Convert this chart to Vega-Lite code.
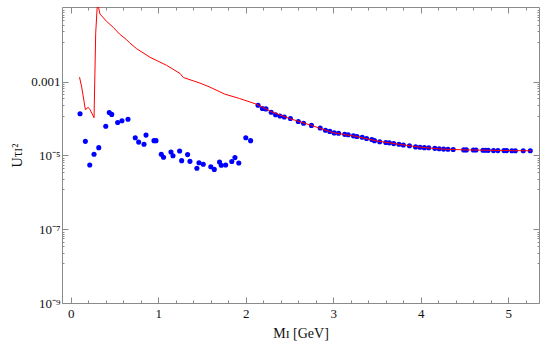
{
  "$schema": "https://vega.github.io/schema/vega-lite/v6.json",
  "width": 477,
  "height": 296,
  "autosize": {"type": "none"},
  "padding": {"left": 62, "top": 7, "right": 6, "bottom": 48},
  "background": "white",
  "config": {
    "view": {"stroke": null},
    "axis": {
      "grid": false,
      "domainColor": "#8a8a8a",
      "tickColor": "#8a8a8a",
      "labelFont": "Liberation Serif",
      "labelFontSize": 13,
      "labelColor": "#111",
      "titleFont": "Liberation Serif",
      "titleFontSize": 14,
      "titleFontWeight": "normal",
      "titleColor": "#111"
    }
  },
  "datasets": {
    "curve": [
      {"m": 0.10, "u": 0.00132},
      {"m": 0.125, "u": 0.000708},
      {"m": 0.167, "u": 0.000174},
      {"m": 0.20, "u": 0.000200},
      {"m": 0.22, "u": 0.000174},
      {"m": 0.266, "u": 0.000105},
      {"m": 0.285, "u": 0.0204},
      {"m": 0.305, "u": 0.141},
      {"m": 0.334, "u": 0.0676},
      {"m": 0.41, "u": 0.0427},
      {"m": 0.486, "u": 0.0295},
      {"m": 0.556, "u": 0.0195},
      {"m": 0.64, "u": 0.0135},
      {"m": 0.677, "u": 0.0110},
      {"m": 0.753, "u": 0.00776},
      {"m": 0.905, "u": 0.00457},
      {"m": 1.096, "u": 0.00275},
      {"m": 1.248, "u": 0.00166},
      {"m": 1.286, "u": 0.00129},
      {"m": 1.476, "u": 0.000912},
      {"m": 1.59, "u": 0.000708},
      {"m": 1.76, "u": 0.000457},
      {"m": 1.93, "u": 0.000347},
      {"m": 2.12, "u": 0.000245},
      {"m": 2.3, "u": 0.000150},
      {"m": 2.5, "u": 0.000100},
      {"m": 2.75, "u": 0.000065},
      {"m": 3.0, "u": 0.000041},
      {"m": 3.25, "u": 0.000033},
      {"m": 3.5, "u": 0.0000245},
      {"m": 3.75, "u": 0.0000200},
      {"m": 4.0, "u": 0.0000166},
      {"m": 4.25, "u": 0.0000148},
      {"m": 4.5, "u": 0.0000141},
      {"m": 4.75, "u": 0.0000138},
      {"m": 5.0, "u": 0.0000135},
      {"m": 5.26, "u": 0.0000133}
    ],
    "points": [
      {"m": 0.106, "u": 0.000135},
      {"m": 0.167, "u": 0.0000240},
      {"m": 0.217, "u": 0.0000055},
      {"m": 0.266, "u": 0.0000107},
      {"m": 0.32, "u": 0.0000162},
      {"m": 0.40, "u": 0.0000617},
      {"m": 0.44, "u": 0.000145},
      {"m": 0.468, "u": 0.000129},
      {"m": 0.536, "u": 0.0000776},
      {"m": 0.585, "u": 0.0000871},
      {"m": 0.654, "u": 0.0000955},
      {"m": 0.737, "u": 0.0000302},
      {"m": 0.776, "u": 0.0000229},
      {"m": 0.837, "u": 0.0000200},
      {"m": 0.86, "u": 0.0000355},
      {"m": 0.951, "u": 0.0000251},
      {"m": 0.974, "u": 0.0000251},
      {"m": 1.034, "u": 0.0000107},
      {"m": 1.06, "u": 0.0000089},
      {"m": 1.145, "u": 0.0000123},
      {"m": 1.168, "u": 0.0000098},
      {"m": 1.244, "u": 0.0000132},
      {"m": 1.267, "u": 0.0000072},
      {"m": 1.335, "u": 0.0000105},
      {"m": 1.362, "u": 0.0000069},
      {"m": 1.441, "u": 0.0000045},
      {"m": 1.465, "u": 0.0000063},
      {"m": 1.514, "u": 0.00000575},
      {"m": 1.60, "u": 0.0000049},
      {"m": 1.64, "u": 0.00000417},
      {"m": 1.70, "u": 0.0000066},
      {"m": 1.72, "u": 0.0000054},
      {"m": 1.77, "u": 0.0000055},
      {"m": 1.84, "u": 0.0000068},
      {"m": 1.876, "u": 0.0000087},
      {"m": 1.92, "u": 0.0000062},
      {"m": 2.00, "u": 0.0000302},
      {"m": 2.055, "u": 0.0000251},
      {"m": 2.14, "u": 0.000229},
      {"m": 2.19, "u": 0.000186},
      {"m": 2.23, "u": 0.000182},
      {"m": 2.29, "u": 0.000148},
      {"m": 2.34, "u": 0.000126},
      {"m": 2.39, "u": 0.000117},
      {"m": 2.44, "u": 0.000110},
      {"m": 2.51, "u": 0.000100},
      {"m": 2.60, "u": 0.000083},
      {"m": 2.66, "u": 0.000074},
      {"m": 2.75, "u": 0.000065},
      {"m": 2.85, "u": 0.000055},
      {"m": 2.91, "u": 0.000048},
      {"m": 2.96, "u": 0.0000447},
      {"m": 3.01, "u": 0.0000407},
      {"m": 3.06, "u": 0.0000398},
      {"m": 3.13, "u": 0.0000372},
      {"m": 3.17, "u": 0.0000363},
      {"m": 3.23, "u": 0.0000339},
      {"m": 3.27, "u": 0.0000324},
      {"m": 3.33, "u": 0.0000309},
      {"m": 3.38, "u": 0.0000288},
      {"m": 3.44, "u": 0.0000269},
      {"m": 3.47, "u": 0.0000251},
      {"m": 3.53, "u": 0.0000234},
      {"m": 3.60, "u": 0.0000224},
      {"m": 3.64, "u": 0.0000219},
      {"m": 3.69, "u": 0.0000209},
      {"m": 3.75, "u": 0.0000200},
      {"m": 3.80, "u": 0.0000191},
      {"m": 3.87, "u": 0.0000182},
      {"m": 3.94, "u": 0.0000170},
      {"m": 3.99, "u": 0.0000166},
      {"m": 4.04, "u": 0.0000162},
      {"m": 4.09, "u": 0.0000161},
      {"m": 4.16, "u": 0.0000155},
      {"m": 4.21, "u": 0.0000151},
      {"m": 4.26, "u": 0.0000148},
      {"m": 4.31, "u": 0.0000147},
      {"m": 4.37, "u": 0.0000145},
      {"m": 4.49, "u": 0.0000141},
      {"m": 4.52, "u": 0.0000141},
      {"m": 4.60, "u": 0.0000140},
      {"m": 4.63, "u": 0.0000140},
      {"m": 4.71, "u": 0.0000138},
      {"m": 4.74, "u": 0.0000138},
      {"m": 4.77, "u": 0.0000137},
      {"m": 4.83, "u": 0.0000135},
      {"m": 4.88, "u": 0.0000135},
      {"m": 4.95, "u": 0.0000135},
      {"m": 4.98, "u": 0.0000135},
      {"m": 5.04, "u": 0.0000134},
      {"m": 5.08, "u": 0.0000134},
      {"m": 5.17, "u": 0.0000133},
      {"m": 5.25, "u": 0.0000133}
    ]
  },
  "resolve": {"axis": {"x": "independent", "y": "independent"}},
  "layer": [
    {
      "data": {"name": "points"},
      "mark": {"type": "circle", "size": 26, "opacity": 1, "color": "#0000ff", "clip": true},
      "encoding": {
        "x": {
          "field": "m", "type": "quantitative",
          "scale": {"domain": [-0.1, 5.35], "nice": false, "zero": false},
          "axis": {
            "orient": "bottom",
            "title": "Mɪ [GeV]",
            "titlePadding": 6,
            "values": [0,0.2,0.4,0.6,0.8,1,1.2,1.4,1.6,1.8,2,2.2,2.4,2.6,2.8,3,3.2,3.4,3.6,3.8,4,4.2,4.4,4.6,4.8,5,5.2],
            "labelExpr": "datum.value % 1 == 0 ? datum.value : ''",
            "tickSize": {"condition": {"test": "datum.value % 1 == 0", "value": -6}, "value": -3},
            "labelPadding": 10,
            "labelFlush": false
          }
        },
        "y": {
          "field": "u", "type": "quantitative",
          "scale": {"type": "log", "domain": [1e-9, 0.105], "nice": false},
          "axis": {
            "orient": "left",
            "title": "Uτɪ²",
            "titlePadding": 6,
            "values": [1e-9, 1e-7, 1e-5, 0.001,
              8.5e-8, 7.5e-8, 6.5e-8, 5.6e-8, 4.6e-8, 3.5e-8, 2.3e-8, 1.2e-8,
              8.5e-6, 7.5e-6, 6.5e-6, 5.6e-6, 4.6e-6, 3.5e-6, 2.3e-6, 1.2e-6,
              8.5e-4, 7.5e-4, 6.5e-4, 5.6e-4, 4.6e-4, 3.5e-4, 2.3e-4, 1.2e-4,
              8.5e-2, 7.5e-2, 6.5e-2, 5.6e-2, 4.6e-2, 3.5e-2, 2.3e-2, 1.2e-2],
            "labelExpr": "datum.value == 0.001 ? '0.001' : datum.value == 1e-5 ? '10⁻⁵' : datum.value == 1e-7 ? '10⁻⁷' : datum.value == 1e-9 ? '10⁻⁹' : ''",
            "tickSize": {"condition": {"test": "datum.value == 0.001 || datum.value == 1e-5 || datum.value == 1e-7 || datum.value == 1e-9", "value": -6}, "value": -2},
            "labelPadding": 8,
            "labelFlush": false
          }
        }
      }
    },
    {
      "data": {"name": "curve"},
      "mark": {"type": "line", "color": "#ff0000", "strokeWidth": 1, "clip": true},
      "encoding": {
        "x": {
          "field": "m", "type": "quantitative",
          "scale": {"domain": [-0.1, 5.35], "nice": false, "zero": false},
          "axis": {
            "orient": "top",
            "title": null,
            "labels": false,
            "values": [0,0.2,0.4,0.6,0.8,1,1.2,1.4,1.6,1.8,2,2.2,2.4,2.6,2.8,3,3.2,3.4,3.6,3.8,4,4.2,4.4,4.6,4.8,5,5.2],
            "tickSize": {"condition": {"test": "datum.value % 1 == 0", "value": -6}, "value": -3}
          }
        },
        "y": {
          "field": "u", "type": "quantitative",
          "scale": {"type": "log", "domain": [1e-9, 0.105], "nice": false},
          "axis": {
            "orient": "right",
            "title": null,
            "labels": false,
            "values": [1e-9, 1e-7, 1e-5, 0.001,
              8.5e-8, 7.5e-8, 6.5e-8, 5.6e-8, 4.6e-8, 3.5e-8, 2.3e-8, 1.2e-8,
              8.5e-6, 7.5e-6, 6.5e-6, 5.6e-6, 4.6e-6, 3.5e-6, 2.3e-6, 1.2e-6,
              8.5e-4, 7.5e-4, 6.5e-4, 5.6e-4, 4.6e-4, 3.5e-4, 2.3e-4, 1.2e-4,
              8.5e-2, 7.5e-2, 6.5e-2, 5.6e-2, 4.6e-2, 3.5e-2, 2.3e-2, 1.2e-2],
            "tickSize": {"condition": {"test": "datum.value == 0.001 || datum.value == 1e-5 || datum.value == 1e-7 || datum.value == 1e-9", "value": -6}, "value": -2}
          }
        }
      }
    }
  ]
}
